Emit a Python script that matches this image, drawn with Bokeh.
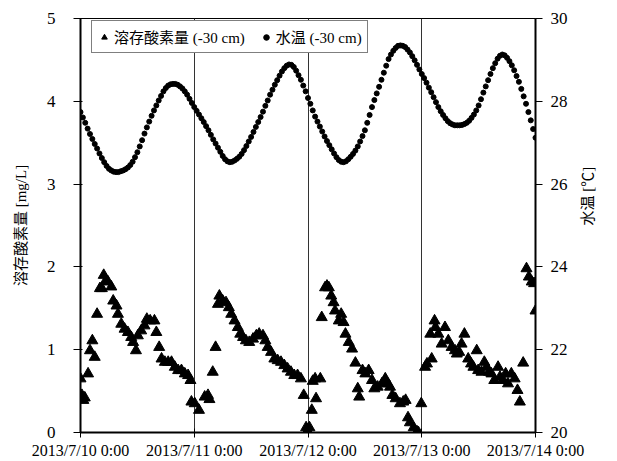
import math
from bokeh.plotting import figure
from bokeh.models import Range1d, LinearAxis, FixedTicker, Legend, LegendItem
from bokeh.embed import file_html
from bokeh.resources import INLINE

# ---- data (hours since 2013/7/10 0:00) ----
x_tick_hours = [0, 24, 48, 72, 96]
x_tick_labels = ["2013/7/10 0:00", "2013/7/11 0:00", "2013/7/12 0:00",
                 "2013/7/13 0:00", "2013/7/14 0:00"]

# dissolved oxygen (-30 cm) [mg/L]
do_hours = [0.0, 0.3, 0.6, 0.9, 1.6, 2.0, 2.5, 3.0, 3.5, 4.1, 4.5, 4.9, 5.4, 5.8, 6.5,
            6.9, 7.6, 7.9, 8.6, 9.3, 10.0, 10.7, 11.1, 11.7, 12.1, 12.8, 13.5, 14.0,
            14.7, 15.6, 16.0, 16.6, 17.1, 17.8, 18.5, 19.2, 19.9, 20.6, 21.3, 22.0,
            22.7, 23.2, 23.4, 24.1, 25.0, 26.2, 26.9, 27.2, 27.9, 28.5, 29.0, 29.3,
            30.0, 30.7, 31.3, 31.8, 32.5, 33.2, 33.7, 34.3, 34.9, 35.6, 36.4, 37.1,
            37.7, 38.5, 39.0, 39.5, 40.2, 40.9, 41.6, 42.3, 43.0, 43.7, 44.4, 45.1,
            45.8, 46.5, 47.1, 47.6, 47.9, 48.3, 48.8, 49.0, 49.5, 49.7, 50.6, 50.9,
            51.6, 52.0, 52.4, 52.9, 53.4, 53.7, 54.5, 55.0, 55.5, 55.9, 56.6, 57.3,
            58.0, 58.5, 58.8, 59.5, 60.1, 60.8, 61.5, 62.0, 62.7, 63.6, 64.3, 64.8,
            65.3, 65.8, 66.5, 67.4, 68.1, 68.6, 69.1, 69.5, 70.3, 71.0, 71.3, 71.9,
            72.7, 73.1, 73.8, 74.1, 74.7, 74.9, 75.5, 76.2, 76.9, 77.6, 78.3, 79.0,
            79.4, 79.9, 80.4, 81.0, 81.8, 82.4, 82.9, 83.6, 83.9, 84.6, 85.2, 85.7,
            86.2, 86.7, 87.3, 88.1, 88.5, 89.2, 89.7, 90.2, 90.9, 91.6, 92.2, 92.7,
            93.4, 94.1, 94.6, 95.2, 95.7, 96.0]
do_values = [0.65, 0.45, 0.39, 0.42, 0.71, 0.99, 1.11, 0.91, 1.43, 1.74, 1.74, 1.90, 1.84,
             1.82, 1.76, 1.59, 1.53, 1.43, 1.31, 1.25, 1.21, 1.15, 1.09, 0.99, 1.17, 1.23,
             1.29, 1.37, 1.35, 1.35, 1.21, 1.03, 0.89, 0.85, 0.85, 0.85, 0.79, 0.75, 0.75,
             0.71, 0.69, 0.63, 0.37, 0.35, 0.27, 0.43, 0.45, 0.40, 0.73, 1.03, 1.55, 1.65,
             1.59, 1.57, 1.51, 1.43, 1.35, 1.27, 1.19, 1.15, 1.11, 1.09, 1.13, 1.17, 1.19,
             1.17, 1.11, 1.03, 0.97, 0.89, 0.87, 0.85, 0.81, 0.77, 0.73, 0.69, 0.69, 0.65,
             0.45, 0.06, 0.02, 0.06, 0.27, 0.62, 0.65, 0.41, 0.65, 1.39, 1.75, 1.77, 1.75,
             1.65, 1.57, 1.47, 1.35, 1.43, 1.33, 1.19, 1.09, 1.01, 0.84, 0.53, 0.43, 0.75,
             0.71, 0.75, 0.63, 0.53, 0.55, 0.59, 0.65, 0.59, 0.55, 0.45, 0.41, 0.35, 0.37,
             0.39, 0.18, 0.12, 0.06, 0.01, 0.00, 0.35, 0.79, 0.83, 1.19, 0.89, 1.35, 1.27,
             1.19, 1.07, 1.27, 1.11, 1.03, 0.99, 0.95, 0.97, 1.07, 1.19, 0.89, 0.83, 0.79,
             0.99, 0.75, 0.73, 0.85, 0.79, 0.73, 0.71, 0.63, 0.79, 0.67, 0.63, 0.71, 0.59,
             0.71, 0.65, 0.51, 0.37, 0.84, 1.98, 1.88, 1.82, 1.80, 1.47]

# water temperature (-30 cm) [deg C], every 30 minutes
temp_day1 = [27.74, 27.61, 27.48, 27.34, 27.21, 27.09, 26.97, 26.86, 26.74, 26.63,
             26.53, 26.44, 26.37, 26.33, 26.30, 26.29, 26.29, 26.31, 26.33, 26.36,
             26.40, 26.46, 26.54, 26.65, 26.77, 26.91, 27.06, 27.22, 27.37, 27.51,
             27.65, 27.78, 27.90, 28.02, 28.13, 28.24, 28.32, 28.38, 28.41, 28.42,
             28.42, 28.40, 28.36, 28.31, 28.24, 28.16, 28.06, 27.96]
temp_day2 = [27.86, 27.77, 27.68, 27.59, 27.50, 27.40, 27.30, 27.19, 27.08, 26.98,
             26.88, 26.78, 26.68, 26.60, 26.55, 26.53, 26.54, 26.57, 26.61, 26.66,
             26.73, 26.82, 26.92, 27.03, 27.14, 27.26, 27.38, 27.50, 27.62, 27.75,
             27.89, 28.02, 28.16, 28.28, 28.40, 28.51, 28.62, 28.72, 28.80, 28.86,
             28.89, 28.88, 28.83, 28.74, 28.63, 28.52, 28.38, 28.24]
temp_day3 = [28.08, 27.94, 27.78, 27.63, 27.51, 27.39, 27.27, 27.15, 27.04, 26.94,
             26.84, 26.74, 26.65, 26.58, 26.54, 26.53, 26.55, 26.60, 26.66, 26.73,
             26.81, 26.91, 27.03, 27.16, 27.30, 27.48, 27.67, 27.86, 28.03, 28.19,
             28.35, 28.52, 28.69, 28.86, 29.02, 29.13, 29.22, 29.29, 29.34, 29.35,
             29.34, 29.31, 29.25, 29.18, 29.09, 28.99, 28.88, 28.77]
temp_day4 = [28.66, 28.56, 28.45, 28.33, 28.22, 28.10, 27.98, 27.86, 27.76, 27.67,
             27.59, 27.52, 27.47, 27.44, 27.42, 27.42, 27.42, 27.43, 27.45, 27.48,
             27.53, 27.60, 27.68, 27.78, 27.90, 28.05, 28.21, 28.36, 28.51, 28.66,
             28.80, 28.92, 29.03, 29.10, 29.13, 29.11, 29.05, 28.97, 28.87, 28.75,
             28.61, 28.47, 28.30, 28.12, 27.94, 27.74, 27.54, 27.33, 27.12]
temp_values = temp_day1 + temp_day2 + temp_day3 + temp_day4
temp_interval_h = 0.5
temp_hours = [i * temp_interval_h for i in range(len(temp_values))]

SERIF = "Liberation Serif, Noto Sans CJK JP"

p = figure(width=617, height=461, output_backend="svg", toolbar_location=None,
           x_range=Range1d(0, 96), y_range=Range1d(0, 5),
           min_border_left=80, min_border_right=82, min_border_top=18,
           min_border_bottom=29, background_fill_color="white",
           border_fill_color="white")
p.outline_line_color = "black"
p.outline_line_width = 1
p.extra_y_ranges = {"temp": Range1d(20, 30)}

# axes
xa = p.xaxis[0]
xa.ticker = FixedTicker(ticks=x_tick_hours)
xa.major_label_overrides = {h: lab for h, lab in zip(x_tick_hours, x_tick_labels)}
xa.major_tick_in = 4
xa.major_tick_out = 5
xa.minor_tick_line_color = None
xa.major_label_standoff = 4
xa.major_label_text_font = SERIF
xa.major_label_text_font_size = "16px"
xa.major_label_text_color = "black"
xa.axis_line_width = 2
xa.axis_line_color = "black"

ya = p.yaxis[0]
ya.ticker = FixedTicker(ticks=[0, 1, 2, 3, 4, 5])
ya.axis_label = "溶存酸素量 [mg/L]"
ya.major_tick_in = 2
ya.major_tick_out = 7
ya.minor_tick_line_color = None
ya.major_label_standoff = 18
ya.major_label_text_font = SERIF
ya.major_label_text_font_size = "17px"
ya.major_label_text_color = "black"
ya.axis_label_standoff = 15
ya.axis_label_text_font = SERIF
ya.axis_label_text_font_size = "15px"
ya.axis_label_text_font_style = "normal"
ya.axis_label_text_color = "black"
ya.axis_line_width = 2
ya.axis_line_color = "black"

ra = LinearAxis(y_range_name="temp", axis_label="水温 [℃]",
                ticker=FixedTicker(ticks=[20, 22, 24, 26, 28, 30]))
ra.major_tick_in = 0
ra.major_tick_out = 7
ra.minor_tick_line_color = None
ra.major_label_standoff = 8
ra.major_label_text_font = SERIF
ra.major_label_text_font_size = "17px"
ra.major_label_text_color = "black"
ra.axis_label_standoff = 17
ra.axis_label_orientation = math.pi / 2
ra.axis_label_text_font = SERIF
ra.axis_label_text_font_size = "15px"
ra.axis_label_text_font_style = "normal"
ra.axis_label_text_color = "black"
ra.axis_line_width = 2
ra.axis_line_color = "black"
p.add_layout(ra, "right")

p.xgrid.ticker = FixedTicker(ticks=x_tick_hours)
p.xgrid.grid_line_color = "#333333"
p.xgrid.grid_line_width = 1
p.ygrid.grid_line_color = None

r_do = p.scatter(do_hours, do_values, marker="triangle", size=11,
                 fill_color="black", line_color="black")
r_t = p.scatter(temp_hours, temp_values, marker="circle", size=5,
                fill_color="black", line_color="black", y_range_name="temp")

legend = Legend(items=[LegendItem(label="溶存酸素量 (-30 cm)", renderers=[r_do]),
                       LegendItem(label="水温 (-30 cm)", renderers=[r_t])],
                orientation="horizontal", location=(11, 379),
                border_line_color="black", border_line_width=1,
                background_fill_color="white", background_fill_alpha=1,
                label_text_font=SERIF, label_text_font_size="15px",
                label_text_color="black",
                glyph_width=14, glyph_height=14, label_standoff=3,
                spacing=14, padding=5, margin=0, label_height=14)
p.add_layout(legend)

open("out.html", "w").write(file_html(p, INLINE))
